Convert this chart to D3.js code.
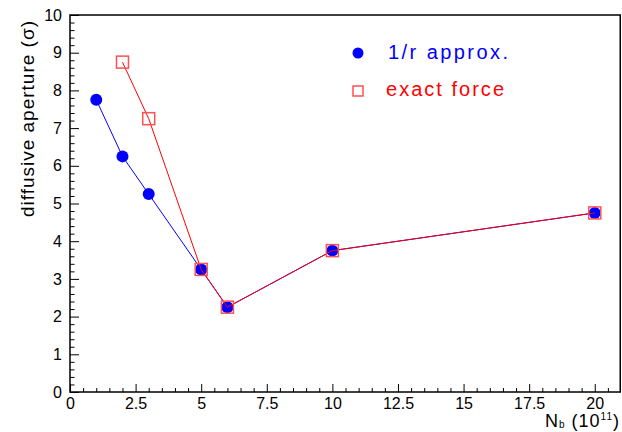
<!DOCTYPE html>
<html>
<head>
<meta charset="utf-8">
<script src="https://cdn.jsdelivr.net/npm/d3@7"></script>
<style>
body { margin: 0; background: #fff; }
text { font-family: "Liberation Sans", Arial, sans-serif; }
</style>
</head>
<body>
<div id="plot"></div>
<script>
// data
var nbApprox = [1, 2, 3, 5, 6, 10, 20];
var apApprox = [7.75, 6.25, 5.25, 3.25, 2.25, 3.75, 4.75];
var nbExact = [2, 3, 5, 6, 10, 20];
var apExact = [8.75, 7.25, 3.25, 2.25, 3.75, 4.75];
var xMajor = [0, 2.5, 5, 7.5, 10, 12.5, 15, 17.5, 20];
var yMajor = [0, 1, 2, 3, 4, 5, 6, 7, 8, 9, 10];
var legendLabels = ["1/r approx.", "exact force"];

var W = 622, H = 432;
var margin = {top: 15, right: 1, bottom: 40, left: 70};

var svg = d3.select("#plot").append("svg")
    .attr("width", W)
    .attr("height", H);

var x = d3.scaleLinear().domain([0, 21]).range([margin.left, W - margin.right]);
var y = d3.scaleLinear().domain([0, 10]).range([H - margin.bottom, margin.top]);

var approx = nbApprox.map(function(d, i) { return {x: d, y: apApprox[i]}; });
var exact = nbExact.map(function(d, i) { return {x: d, y: apExact[i]}; });

// minor ticks
var xMinor = d3.range(0, 21, 0.5).filter(function(d) { return xMajor.indexOf(d) < 0; });
var yMinor = d3.range(0, 10, 0.2).map(function(d) { return Math.round(d * 10) / 10; })
    .filter(function(d) { return yMajor.indexOf(d) < 0; });

svg.append("g")
    .attr("transform", "translate(0," + y(0) + ")")
    .call(d3.axisBottom(x).tickValues(xMinor).tickSize(-4).tickFormat(""))
    .call(function(g) { g.select(".domain").remove(); });
svg.append("g")
    .attr("transform", "translate(0," + y(0) + ")")
    .call(d3.axisBottom(x).tickValues(xMajor).tickSize(-8).tickPadding(6)
        .tickFormat(function(d) { return String(d); }))
    .call(function(g) {
        g.select(".domain").remove();
        g.selectAll("text").attr("font-size", 16).attr("fill", "#000")
            .attr("font-family", "Liberation Sans, Arial, sans-serif");
    });

svg.append("g")
    .attr("transform", "translate(" + x(0) + ",0)")
    .call(d3.axisLeft(y).tickValues(yMinor).tickSize(-4.5).tickFormat(""))
    .call(function(g) { g.select(".domain").remove(); });
svg.append("g")
    .attr("transform", "translate(" + x(0) + ",0)")
    .call(d3.axisLeft(y).tickValues(yMajor).tickSize(-9).tickPadding(8)
        .tickFormat(function(d) { return String(d); }))
    .call(function(g) {
        g.select(".domain").remove();
        g.selectAll("text").attr("font-size", 16).attr("fill", "#000")
            .attr("font-family", "Liberation Sans, Arial, sans-serif");
    });

// frame
svg.append("rect")
    .attr("x", x(0))
    .attr("y", y(10))
    .attr("width", x(21) - x(0) - 0.75)
    .attr("height", y(0) - y(10))
    .attr("fill", "none")
    .attr("stroke", "#000")
    .attr("stroke-width", 1.5);

var line = d3.line()
    .x(function(d) { return x(d.x); })
    .y(function(d) { return y(d.y); });

// 1/r approx
svg.append("path")
    .datum(approx)
    .attr("fill", "none")
    .attr("stroke", "#0000ff")
    .attr("stroke-width", 1)
    .attr("d", line);
svg.append("g").selectAll("circle")
    .data(approx)
    .enter().append("circle")
    .attr("cx", function(d) { return x(d.x); })
    .attr("cy", function(d) { return y(d.y); })
    .attr("r", 6)
    .attr("fill", "#0000ff");

// exact force
svg.append("path")
    .datum(exact)
    .attr("fill", "none")
    .attr("stroke", "#ff0000")
    .attr("stroke-width", 1)
    .attr("d", line);
svg.append("g").selectAll("rect")
    .data(exact)
    .enter().append("rect")
    .attr("x", function(d) { return x(d.x) - 6; })
    .attr("y", function(d) { return y(d.y) - 6; })
    .attr("width", 12)
    .attr("height", 12)
    .attr("fill", "none")
    .attr("stroke", "#ff5050")
    .attr("stroke-width", 1.5);

// legend
svg.append("circle")
    .attr("cx", 358).attr("cy", 53).attr("r", 5.5)
    .attr("fill", "#0000ff");
svg.append("text")
    .attr("x", 388).attr("y", 59)
    .attr("font-size", 20)
    .attr("textLength", 120)
    .attr("lengthAdjust", "spacing")
    .attr("fill", "#0000ff")
    .text(legendLabels[0]);
svg.append("rect")
    .attr("x", 353).attr("y", 86).attr("width", 10).attr("height", 10)
    .attr("fill", "none")
    .attr("stroke", "#ff5050")
    .attr("stroke-width", 1.5);
svg.append("text")
    .attr("x", 386).attr("y", 96)
    .attr("font-size", 20)
    .attr("textLength", 118)
    .attr("lengthAdjust", "spacing")
    .attr("fill", "#ff0000")
    .text(legendLabels[1]);

// axis titles
svg.append("text")
    .attr("transform", "translate(34,20) rotate(-90)")
    .attr("text-anchor", "end")
    .attr("font-size", 19)
    .attr("letter-spacing", 1)
    .text("diffusive aperture (σ)");

var xt = svg.append("text")
    .attr("x", 620).attr("y", 427)
    .attr("text-anchor", "end")
    .attr("letter-spacing", 1)
    .attr("font-size", 18);
xt.append("tspan").text("N");
xt.append("tspan").attr("font-size", 10).attr("dy", 1).text("b");
xt.append("tspan").attr("dy", -1).text(" (10");
xt.append("tspan").attr("font-size", 10).attr("dy", -7).text("11");
xt.append("tspan").attr("dy", 7).text(")");
</script>
</body>
</html>
